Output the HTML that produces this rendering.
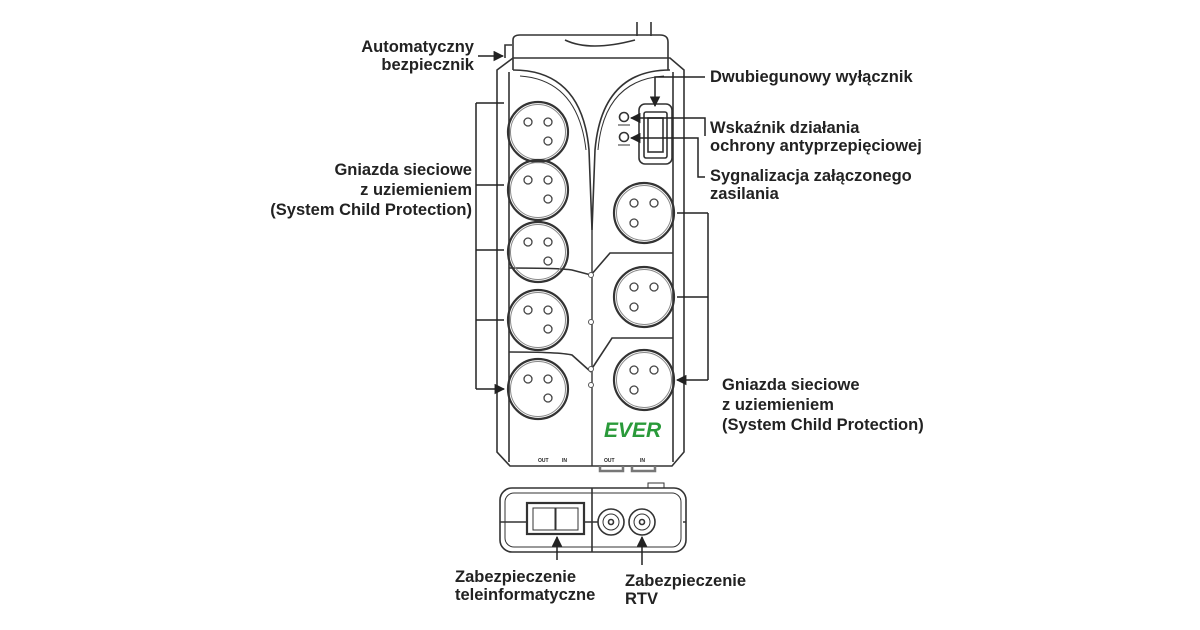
<!DOCTYPE html>
<html><head><meta charset="utf-8"><style>
html,body{margin:0;padding:0;background:#fff;}
svg{display:block}
text{font-family:"Liberation Sans",sans-serif;font-weight:bold;font-size:16.5px;fill:#222}
</style></head><body>
<svg width="1200" height="630" viewBox="0 0 1200 630" xmlns="http://www.w3.org/2000/svg">
<defs>
<marker id="ar" viewBox="0 0 10 10" refX="9" refY="5" markerWidth="7" markerHeight="7" orient="auto"><path d="M0,0L10,5L0,10z" fill="#222"/></marker>
<g id="sock"><circle r="30" fill="none" stroke="#333" stroke-width="2.2"/><circle r="27.5" fill="none" stroke="#888" stroke-width="1"/></g>
</defs>
<g fill="none" stroke="#333" stroke-width="1.6">
<path d="M637,22V36M651,22V36"/>
<path d="M513,70V40Q513,35 520,35H660Q668,35 668,42V70"/>
<path d="M565,40Q590,52 635,40"/>
<path d="M505,58V45H512"/>
<path d="M497,70L513,58H670L684,70V452L672,466H510L497,452Z"/>
<path d="M509,72V462M673,72V462"/>
<path d="M513,70Q582,70 589,150L592,230M670,70Q602,70 595,150L592,230"/>
<path d="M520,76Q578,80 586,150M664,76Q604,80 598,150" stroke-width="1"/>
<path d="M592,225V466" stroke-width="1.4"/>
<path d="M509,268Q560,268 572,270L591,275M509,352Q560,352 572,355L591,372"/>
<path d="M673,253H610L591,275M673,338H612L591,370"/>
<rect x="639" y="104" width="33" height="60" rx="6"/>
<rect x="644" y="112" width="23" height="46" rx="2"/>
<rect x="648" y="118" width="15" height="34"/>
<circle cx="624" cy="117" r="4.5"/><circle cx="624" cy="137" r="4.5"/>
<path d="M618,125H630M618,145H630" stroke-width="1"/>
<path d="M600,466V471H623V466M632,466V471H655V466" stroke-width="2.5" stroke="#777"/>
</g>
<g fill="#fff" stroke="#555" stroke-width="1"><circle cx="591" cy="275" r="2.5"/><circle cx="591" cy="322" r="2.5"/><circle cx="591" cy="369" r="2.5"/><circle cx="591" cy="385" r="2.5"/></g>
<text x="538" y="462" style="font-size:5px">OUT</text><text x="562" y="462" style="font-size:5px">IN</text>
<text x="604" y="462" style="font-size:5px">OUT</text><text x="640" y="462" style="font-size:5px">IN</text>
<text x="604" y="437" style="font-size:21px;font-style:italic;fill:#2a9a3a">EVER</text>
<g>
<use href="#sock" x="538" y="132"/><use href="#sock" x="538" y="190"/><use href="#sock" x="538" y="252"/><use href="#sock" x="538" y="320"/><use href="#sock" x="538" y="389"/>
<use href="#sock" x="644" y="213"/><use href="#sock" x="644" y="297"/><use href="#sock" x="644" y="380"/>
</g>
<g fill="none" stroke="#444" stroke-width="1.3">
<g id="p3"><circle cx="528" cy="122" r="4"/><circle cx="548" cy="122" r="4"/><circle cx="548" cy="141" r="4"/></g>
<use href="#p3" y="58"/><use href="#p3" y="120"/><use href="#p3" y="188"/><use href="#p3" y="257"/>
<g id="p4"><circle cx="634" cy="203" r="4"/><circle cx="654" cy="203" r="4"/><circle cx="634" cy="223" r="4"/></g>
<use href="#p4" y="84"/><use href="#p4" y="167"/>
</g>
<g fill="none" stroke="#333" stroke-width="1.6">
<rect x="500" y="488" width="186" height="64" rx="12"/>
<rect x="505" y="493" width="176" height="54" rx="9" stroke-width="1"/>
<path d="M592,488V552M500,522H527M584,522H598M683,522H686"/>
<rect x="527" y="503" width="57" height="31" stroke-width="2.2"/>
<rect x="533" y="508" width="22" height="22" stroke-width="1"/><rect x="556" y="508" width="22" height="22" stroke-width="1"/>
<circle cx="611" cy="522" r="13"/><circle cx="611" cy="522" r="8" stroke-width="1"/><circle cx="611" cy="522" r="2.5"/>
<circle cx="642" cy="522" r="13"/><circle cx="642" cy="522" r="8" stroke-width="1"/><circle cx="642" cy="522" r="2.5"/>
<path d="M648,488V483H664V488" stroke-width="1"/>
</g>
<g fill="none" stroke="#222" stroke-width="1.5">
<path d="M478,56H503" marker-end="url(#ar)"/>
<path d="M705,77H655V106" marker-end="url(#ar)"/>
<path d="M705,136V118H631" marker-end="url(#ar)"/>
<path d="M705,177H698V138H631" marker-end="url(#ar)"/>
<path d="M476,103V389"/>
<path d="M476,103H504M476,185H504M476,250H504M476,320H504M476,389H504" marker-end="url(#ar)"/>
<path d="M708,213V380"/>
<path d="M708,213H677M708,297H677M708,380H677" marker-end="url(#ar)"/>
<path d="M557,560V537" marker-end="url(#ar)"/>
<path d="M642,565V537" marker-end="url(#ar)"/>
</g>
<g text-anchor="end">
<text x="474" y="52">Automatyczny</text><text x="474" y="70">bezpiecznik</text>
<text x="472" y="175">Gniazda sieciowe</text><text x="472" y="195">z uziemieniem</text><text x="472" y="215">(System Child Protection)</text>
</g>
<text x="710" y="82">Dwubiegunowy wyłącznik</text>
<text x="710" y="133">Wskaźnik działania</text><text x="710" y="151">ochrony antyprzepięciowej</text>
<text x="710" y="181">Sygnalizacja załączonego</text><text x="710" y="199">zasilania</text>
<text x="722" y="390">Gniazda sieciowe</text><text x="722" y="410"> z uziemieniem</text><text x="722" y="430">(System Child Protection)</text>
<text x="455" y="582">Zabezpieczenie</text><text x="455" y="600">teleinformatyczne</text>
<text x="625" y="586">Zabezpieczenie</text><text x="625" y="604">RTV</text>
</svg>
</body></html>
